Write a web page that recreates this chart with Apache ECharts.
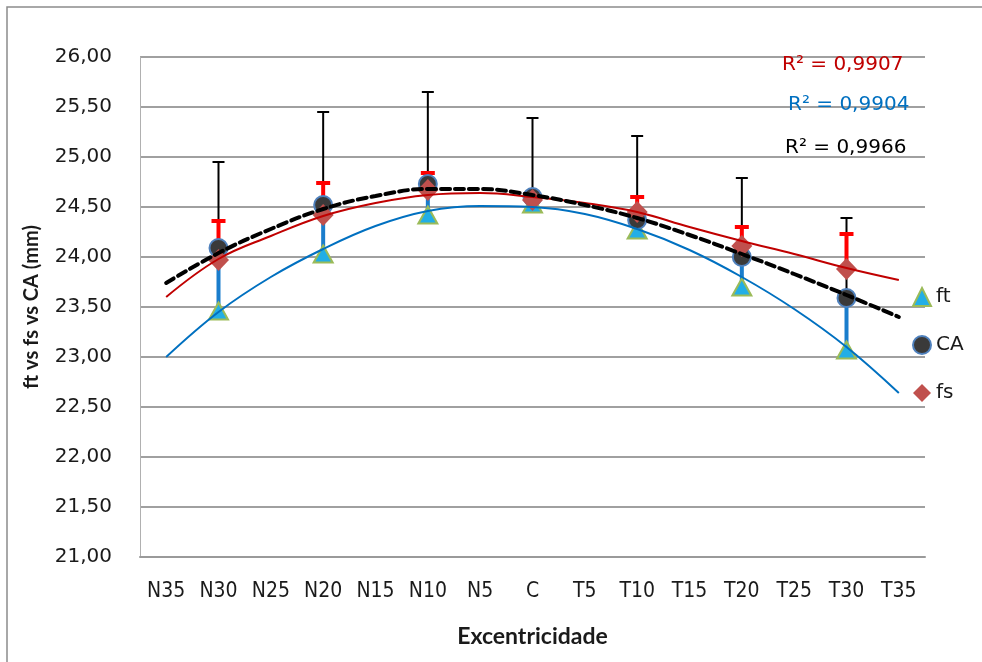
<!DOCTYPE html>
<html>
<head>
<meta charset="utf-8">
<script src="https://cdn.jsdelivr.net/npm/echarts@6/dist/echarts.min.js"></script>
<style>
html,body{margin:0;padding:0;background:#fff;}
#chart{width:982px;height:662px;}
</style>
</head>
<body>
<div id="chart"></div>
<script>
// ---- data ----
const categories = ['N35','N30','N25','N20','N15','N10','N5','C','T5','T10','T15','T20','T25','T30','T35'];
const ftValues   = [null,23.46,null,24.03,null,24.42,null,24.53,null,24.27,null,23.70,null,23.07,null];
const caValues   = [null,24.09,null,24.52,null,24.73,null,24.60,null,24.37,null,24.00,null,23.59,null];
const fsValues   = [null,23.97,null,24.42,null,24.67,null,24.57,null,24.45,null,24.11,null,23.88,null];
const ftErrTop   = [null,24.05,null,24.45,null,24.66,null,24.58,null,24.36,null,23.98,null,23.55,null];
const caErrTop   = [null,24.95,null,25.45,null,25.65,null,25.39,null,25.21,null,24.79,null,24.39,null];
const fsErrTop   = [null,24.36,null,24.74,null,24.84,null,24.62,null,24.60,null,24.30,null,24.23,null];
// trendlines at each category
const trendFs = [23.60,23.98,24.21,24.41,24.54,24.62,24.64,24.60,24.54,24.45,24.30,24.16,24.03,23.89,23.77];
const trendFt = [23.00,23.45,23.80,24.08,24.31,24.46,24.51,24.50,24.43,24.28,24.07,23.80,23.48,23.10,22.64];
const trendCa = [23.74,24.04,24.28,24.48,24.61,24.68,24.68,24.62,24.52,24.39,24.22,24.03,23.83,23.62,23.40];
const r2Labels = ['R² = 0,9907','R² = 0,9904','R² = 0,9966'];

const chart = echarts.init(document.getElementById('chart'));

function errData(base, top){
  const out=[];
  base.forEach((v,i)=>{ if(v!=null && top[i]!=null) out.push([i, v, top[i]]); });
  return out;
}
function errSeries(name, base, top, color, width, cap, z){
  return {
    name: name, type:'custom', z:z, silent:true,
    encode:{x:0, y:[1,2]},
    data: errData(base, top),
    renderItem: function(params, api){
      const x=api.value(0), lo=api.value(1), hi=api.value(2);
      const p0=api.coord([x,lo]), p1=api.coord([x,hi]);
      const hw=cap/2;
      return {type:'group', children:[
        {type:'line', shape:{x1:p0[0],y1:p0[1],x2:p1[0],y2:p1[1]}, style:{stroke:color, lineWidth:width}},
        {type:'line', shape:{x1:p1[0]-hw,y1:p1[1],x2:p1[0]+hw,y2:p1[1]}, style:{stroke:color, lineWidth:width}}
      ]};
    }
  };
}
const toData = arr => arr.map(v => v==null ? '-' : v);

const option = {
  animation:false,
  backgroundColor:'#fff',
  grid:{left:140, right:57, top:57, bottom:105},
  legend:{
    data:['ft','CA','fs'],
    orient:'vertical', left:907, top:282,
    itemWidth:18, itemHeight:18, itemGap:28,
    textStyle:{fontFamily:'DejaVu Sans', fontSize:20, color:'#1a1a1a'}
  },
  xAxis:{
    type:'category', data:categories, boundaryGap:true,
    axisLine:{lineStyle:{color:'#9a9a9a', width:2}},
    axisTick:{show:false},
    axisLabel:{fontFamily:'DejaVu Sans Condensed', fontSize:21, color:'#1a1a1a', margin:24, interval:0},
    name:'Excentricidade', nameLocation:'middle', nameGap:68,
    nameTextStyle:{fontFamily:'Lato', fontWeight:'bold', fontSize:23, color:'#1a1a1a'}
  },
  yAxis:{
    type:'value', min:21, max:26, interval:0.5,
    axisLine:{show:true, lineStyle:{color:'#b0b0b0', width:1}},
    axisTick:{show:false},
    splitLine:{lineStyle:{color:'#a0a0a0', width:2}},
    axisLabel:{fontFamily:'DejaVu Sans', fontSize:20, color:'#1a1a1a', margin:28,
      formatter: v => v.toFixed(2).replace('.',',')},
    name:'ft vs fs vs CA (mm)', nameLocation:'middle', nameGap:98, nameRotate:90,
    nameTextStyle:{fontFamily:'Lato', fontWeight:'bold', fontSize:20, color:'#1a1a1a'}
  },
  graphic:[
    {type:'rect', shape:{x:7,y:7,width:990,height:700}, style:{fill:'none', stroke:'#8c8c8c', lineWidth:1.5}, z:-10},
    {type:'text', left:782, top:55, style:{text:r2Labels[0], fill:'#c00000', font:'20px "DejaVu Sans"'}, z:100},
    {type:'text', left:788, top:95, style:{text:r2Labels[1], fill:'#0070c0', font:'20px "DejaVu Sans"'}, z:100},
    {type:'text', left:785, top:138, style:{text:r2Labels[2], fill:'#000000', font:'20px "DejaVu Sans"'}, z:100}
  ],
  series:[
    errSeries('ftErr', ftValues, ftErrTop, '#1a7dcc', 4, 13, 1),
    errSeries('caErr', caValues, caErrTop, '#000000', 2, 12, 2),
    errSeries('fsErr', fsValues, fsErrTop, '#ff0000', 4, 14, 3),
    {name:'ft', type:'scatter', z:4, data:toData(ftValues), symbol:'triangle', symbolSize:[19,17],
      itemStyle:{color:'#22aee6', borderColor:'#9bbb59', borderWidth:2, opacity:1}},
    {name:'CA', type:'scatter', z:5, data:toData(caValues), symbol:'circle', symbolSize:18,
      itemStyle:{color:'#3a3a3a', borderColor:'#4f81bd', borderWidth:2, opacity:1}},
    {name:'fs', type:'scatter', z:6, data:toData(fsValues), symbol:'diamond', symbolSize:[21,22],
      itemStyle:{color:'#c0504d', opacity:1}},
    {name:'trend fs', type:'line', z:7, data:trendFs, smooth:0.4, showSymbol:false, silent:true,
      lineStyle:{color:'#c00000', width:2}},
    {name:'trend ft', type:'line', z:7, data:trendFt, smooth:0.4, showSymbol:false, silent:true,
      lineStyle:{color:'#0070c0', width:2}},
    {name:'trend CA', type:'line', z:8, data:trendCa, smooth:0.4, showSymbol:false, silent:true,
      lineStyle:{color:'#000000', width:4, type:[9,5], cap:'round'}}
  ]
};
chart.setOption(option);
</script>
</body>
</html>
